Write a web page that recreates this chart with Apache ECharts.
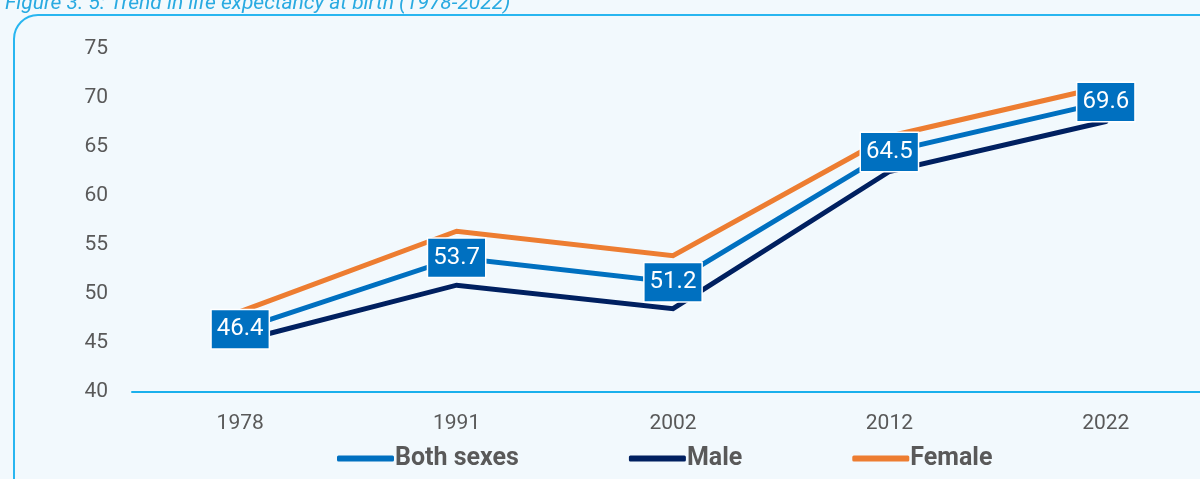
<!DOCTYPE html>
<html>
<head>
<meta charset="utf-8">
<script src="https://cdn.jsdelivr.net/npm/echarts@6/dist/echarts.min.js"></script>
<style>
  html, body { margin: 0; padding: 0; background: #f2f9fd; }
  #chart { width: 1200px; height: 479px; }
</style>
</head>
<body>
<div id="chart"></div>
<script>
const years = ['1978', '1991', '2002', '2012', '2022'];
const bothSexes = [46.4, 53.7, 51.2, 64.5, 69.6];
const male = [45.2, 50.9, 48.5, 62.5, 67.6];
const female = [48.2, 56.4, 53.9, 66.1, 71.2];
const yTicks = { min: 40, max: 75, step: 5 };

const font = "'Roboto', sans-serif";
const chart = echarts.init(document.getElementById('chart'));

chart.setOption({
  backgroundColor: '#f2f9fd',
  textStyle: { fontFamily: font },
  title: {
    text: 'Figure 3. 5: Trend in life expectancy at birth (1978-2022)',
    left: 0,
    top: -12,
    textStyle: { color: '#29aae1', fontSize: 21, fontStyle: 'italic', fontWeight: 'normal', fontFamily: font }
  },
  graphic: [{
    type: 'rect',
    z: -1,
    shape: { x: 14, y: 15, width: 1220, height: 500, r: 24 },
    style: { fill: '#f2f9fd', stroke: '#29b6f0', lineWidth: 2 }
  }],
  grid: { left: 132, width: 1082, top: 49, bottom: 87, outerBoundsMode: 'none', containLabel: false },
  legend: {
    left: 332,
    top: 441,
    itemGap: 110,
    itemWidth: 57,
    itemHeight: 6,
    icon: 'roundRect',
    textStyle: { color: '#595959', fontSize: 25, fontWeight: 'bold', fontFamily: font, padding: [0, 0, 0, -4] },
    data: ['Both sexes', 'Male', 'Female']
  },
  xAxis: {
    type: 'category',
    data: years,
    boundaryGap: true,
    axisLine: { lineStyle: { color: '#1ab0ec', width: 2 } },
    axisTick: { show: false },
    axisLabel: { color: '#595959', fontSize: 21, margin: 21, fontFamily: font }
  },
  yAxis: {
    type: 'value',
    min: yTicks.min,
    max: yTicks.max,
    interval: yTicks.step,
    splitLine: { show: false },
    axisLine: { show: false },
    axisTick: { show: false },
    axisLabel: { color: '#595959', fontSize: 21, margin: 24, fontFamily: font }
  },
  series: [
    {
      name: 'Female',
      type: 'line',
      data: female,
      symbol: 'none',
      z: 2,
      itemStyle: { color: '#ed7d31' },
      lineStyle: { color: '#ed7d31', width: 5, cap: 'round', join: 'miter' }
    },
    {
      name: 'Male',
      type: 'line',
      data: male,
      symbol: 'none',
      z: 2,
      itemStyle: { color: '#002060' },
      lineStyle: { color: '#002060', width: 5, cap: 'round', join: 'miter' }
    },
    {
      name: 'Both sexes',
      type: 'line',
      data: bothSexes,
      symbol: 'circle',
      symbolSize: 1,
      showSymbol: true,
      z: 3,
      itemStyle: { color: '#0070c0' },
      lineStyle: { color: '#0070c0', width: 5, cap: 'round', join: 'miter' },
      label: {
        show: true,
        position: 'inside',
        color: '#ffffff',
        fontSize: 24,
        fontFamily: font,
        backgroundColor: '#0070c0',
        borderColor: '#ffffff',
        borderWidth: 1.5,
        padding: [8, 5, 6, 5]
      }
    }
  ]
});
</script>
</body>
</html>
